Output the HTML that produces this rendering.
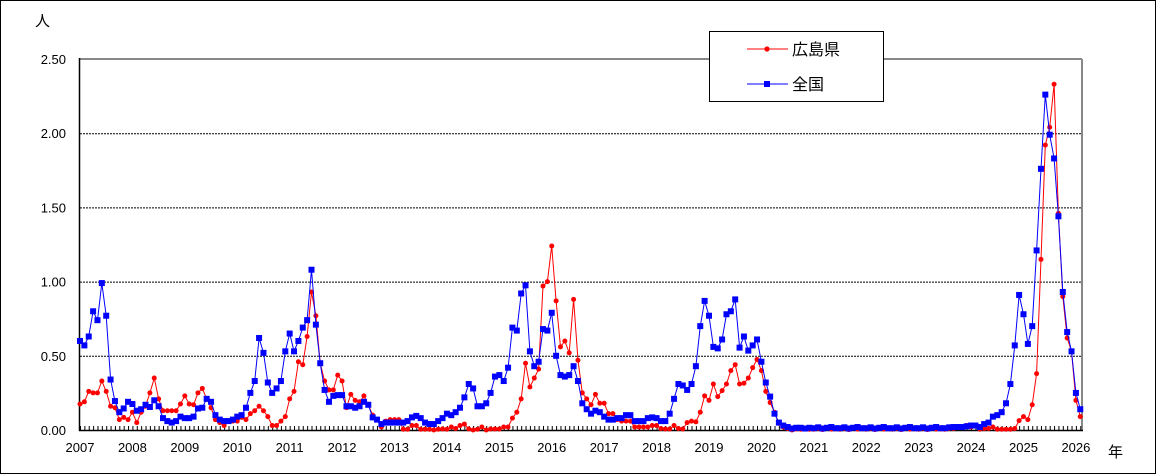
<!DOCTYPE html>
<html><head><meta charset="utf-8"><style>
html,body{margin:0;padding:0;background:#fff}
svg{display:block}
text{font-family:"Liberation Sans","Noto Sans CJK JP",sans-serif;fill:#000}
</style></head><body>
<svg id="s" width="1156" height="474" viewBox="0 0 1156 474" xmlns="http://www.w3.org/2000/svg">
<rect x="0.5" y="0.5" width="1155" height="473" fill="#fff" stroke="#000"/>
<g id="grid"></g>
<line x1="79.5" y1="59" x2="1082" y2="59" stroke="#888" stroke-width="2"/>
<line x1="1082" y1="59" x2="1082" y2="430" stroke="#888" stroke-width="2"/>
<line x1="79.5" y1="58" x2="79.5" y2="431" stroke="#000" stroke-width="1.5"/>
<line x1="79" y1="430.5" x2="1083" y2="430.5" stroke="#000" stroke-width="1.5"/>
<g id="ticks"></g>
<g id="labels" font-size="13"></g>
<text x="35" y="26" font-size="15">人</text>
<text x="1108" y="457" font-size="15">年</text>
<g id="series"></g>
<rect x="709.5" y="31.5" width="174" height="70" fill="#fff" stroke="#000"/>
<line x1="747" y1="49" x2="788" y2="49" stroke="#f00" stroke-width="1"/>
<circle cx="767" cy="49" r="2.6" fill="#f00"/>
<text x="792" y="55" font-size="16">広島県</text>
<line x1="747" y1="84" x2="788" y2="84" stroke="#00f" stroke-width="1"/>
<rect x="764" y="81" width="6" height="6" fill="#00f"/>
<text x="792" y="90" font-size="16">全国</text>
</svg>
<script>
var NS="http://www.w3.org/2000/svg";
function el(p,t,a,txt){var e=document.createElementNS(NS,t);for(var k in a)e.setAttribute(k,a[k]);if(txt!=null)e.textContent=txt;p.appendChild(e);return e;}
var X=function(i){return 80+i*4.368;},Y=function(v){return 430-v*148.4;};
var g=document.getElementById('grid');
[0.5,1,1.5,2].forEach(function(v){el(g,'line',{x1:80,x2:1082,y1:Y(v)+0.5,y2:Y(v)+0.5,stroke:'#000','stroke-dasharray':'2,1','stroke-width':1});});
var t=document.getElementById('ticks');
for(var i=0;i<=229;i++){el(t,'line',{x1:X(i)+0.5,x2:X(i)+0.5,y1:426,y2:430,stroke:'#000','stroke-width':1});}
var L=document.getElementById('labels');
['0.00','0.50','1.00','1.50','2.00','2.50'].forEach(function(s,k){el(L,'text',{x:66,y:Y(k*0.5)+5,'text-anchor':'end'},s);});
for(var yr=2007;yr<=2026;yr++){el(L,'text',{x:X((yr-2007)*12),y:452,'text-anchor':'middle'},String(yr));}
var blue=[.60,.57,.63,.80,.74,.99,.77,.34,.195,.12,.145,.19,
.175,.13,.14,.17,.155,.20,.16,.08,.06,.05,.06,.09,
.08,.08,.09,.145,.15,.21,.19,.10,.07,.06,.06,.07,
.09,.10,.15,.25,.33,.62,.52,.32,.25,.28,.33,.53,
.65,.53,.60,.69,.74,1.08,.71,.45,.27,.19,.23,.235,
.235,.16,.16,.15,.16,.19,.17,.085,.07,.04,.05,.05,
.05,.05,.05,.06,.085,.095,.08,.05,.04,.04,.06,.08,
.11,.10,.12,.15,.22,.31,.28,.16,.16,.18,.25,.36,
.37,.33,.42,.69,.67,.92,.975,.53,.43,.46,.68,.67,
.79,.50,.37,.36,.37,.43,.33,.18,.14,.11,.13,.12,
.09,.07,.07,.08,.08,.10,.10,.06,.06,.06,.08,.085,
.08,.06,.06,.11,.21,.31,.30,.27,.31,.43,.70,.87,
.77,.56,.55,.61,.78,.80,.88,.555,.63,.535,.57,.61,
.46,.32,.225,.11,.05,.03,.02,.01,.015,.015,.01,.015];
var red=[.175,.19,.26,.25,.25,.33,.26,.16,.15,.07,.085,.07,
.12,.05,.12,.16,.25,.35,.21,.13,.13,.13,.13,.175,
.23,.175,.17,.25,.28,.21,.15,.07,.05,.03,.06,.06,
.06,.085,.07,.11,.13,.16,.13,.09,.03,.03,.06,.09,
.21,.26,.46,.44,.63,.93,.77,.45,.33,.27,.27,.37,
.33,.15,.24,.20,.19,.23,.17,.10,.07,.02,.06,.07,
.07,.07,.005,.005,.03,.03,.005,.005,.005,0,.005,.007,
.005,.02,.01,.03,.04,.007,0,.005,.02,0,.007,.007,
.007,.02,.02,.08,.12,.21,.45,.29,.35,.41,.97,1.0,
1.24,.87,.56,.60,.52,.88,.47,.25,.21,.17,.24,.18,
.18,.11,.11,.07,.06,.06,.06,.02,.02,.02,.02,.03,
.03,.01,.007,.007,.03,.01,.007,.05,.06,.055,.12,.23,
.20,.31,.225,.265,.31,.40,.44,.31,.315,.35,.42,.475,
.40,.26,.185,.12,.045,.02,.01,0,.007,.005,.01,.005];
for(var i=168;i<200;i++){blue.push([.012,.018,.01,.015,.02,.012][i%6]);red.push([.005,.01,.003,.012,.006,.008][i%6]);}
blue=blue.concat([.02,.02,.02,.025,.03,.03]);red=red.concat([.01,.02,.02,.03,.02,.03]);
blue=blue.concat([.02,.04,.05,.09,.10,.12,.18,.31,.57,.91,.78,.58,.70,1.21,1.76,2.26,1.99,1.83,1.44,.93,.66,.53,.25,.14]);
red=red.concat([.005,.01,.01,.02,.005,.005,.005,.005,.01,.063,.09,.07,.17,.38,1.15,1.92,2.04,2.33,1.46,.90,.62,.53,.20,.09]);
var S=document.getElementById('series');
function draw(d,c,sq){var p=d.map(function(v,i){return X(i).toFixed(1)+','+Y(v).toFixed(1);}).join(' ');
el(S,'polyline',{points:p,fill:'none',stroke:c,'stroke-width':1});
d.forEach(function(v,i){if(sq)el(S,'rect',{x:X(i)-3,y:Y(v)-3,width:6,height:6,fill:c});else el(S,'circle',{cx:X(i),cy:Y(v),r:2.5,fill:c});});}
draw(red,'#f00',false);
draw(blue,'#00f',true);
</script>
</body></html>
